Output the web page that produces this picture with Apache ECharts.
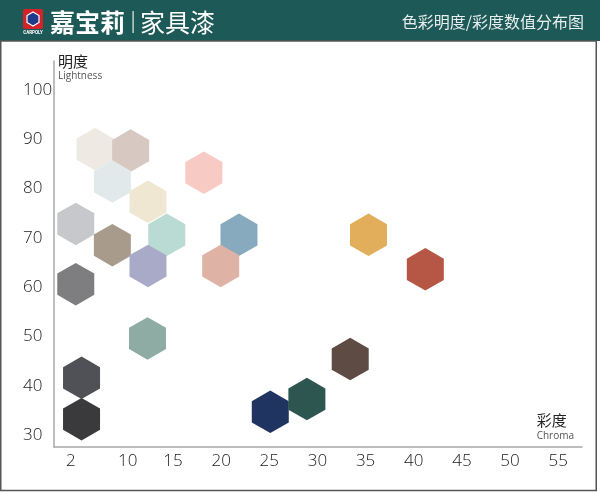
<!DOCTYPE html>
<html>
<head>
<meta charset="utf-8">
<script src="https://cdn.jsdelivr.net/npm/echarts@6/dist/echarts.min.js"></script>
<style>html,body{margin:0;padding:0;background:#fff}#c{width:600px;height:493px}</style>
</head>
<body>
<div id="c"></div>
<script>
// ---- data ----
var chromaValues = [6.9, 10.6, 8.7, 12.4, 18.2, 4.9, 8.7, 14.35, 21.85, 12.4, 19.95, 4.9, 12.35, 5.5, 5.5, 25.1, 28.9, 35.3, 41.2, 33.4];
var lightnessValues = [88.0, 87.7, 81.4, 77.3, 83.2, 72.8, 68.5, 70.6, 70.6, 64.3, 64.3, 60.6, 49.6, 41.6, 33.2, 34.7, 37.3, 70.6, 63.6, 45.4];
var hexColors = ['#EEEAE3', '#D7C8C1', '#E2E9EA', '#EFE7D2', '#F7CAC4', '#C7C8CB', '#A89B8B', '#BADBD4', '#88AABE', '#A9AAC7',
                 '#DEB2A5', '#7E7E81', '#8EABA4', '#505057', '#3A3A3D', '#1F3461', '#2E5651', '#E2AE5B', '#B65645', '#5E4B44'];
var xTickValues = [4.4, 10.3, 15, 20, 25, 30, 35, 40, 45, 50, 55];
var xTickLabels = ['2', '10', '15', '20', '25', '30', '35', '40', '45', '50', '55'];
var yTickValues = [30, 40, 50, 60, 70, 80, 90, 100];
var yTickLabels = ['30', '40', '50', '60', '70', '80', '90', '100'];

var hexPath = 'path://M0,-1 L0.866,-0.5 L0.866,0.5 L0,1 L-0.866,0.5 L-0.866,-0.5 Z';

var chart = echarts.init(document.getElementById('c'), null, {renderer: 'canvas'});
var pts = chromaValues.map(function (x, i) {
  return {value: [x, lightnessValues[i]], itemStyle: {color: hexColors[i], opacity: 1}};
});
var labelFont = '"Open Sans", "Segoe UI", sans-serif';
var option = {
  backgroundColor: '#ffffff',
  animation: false,
  grid: {left: 54, right: 18, top: 61, bottom: 46, containLabel: false},
  xAxis: {
    type: 'value', min: 2.64, max: 57.47,
    name: '{a|彩度}\n{b|Chroma}', nameLocation: 'end', nameGap: -8,
    nameTextStyle: {align: 'right', verticalAlign: 'bottom', padding: [0, 0, 4, 0],
      rich: {a: {fontSize: 15, color: '#222', fontFamily: '"Noto Sans CJK SC"', align: 'left', lineHeight: 19},
             b: {fontSize: 10, color: '#555', fontFamily: labelFont, align: 'left', lineHeight: 13}}},
    axisLine: {lineStyle: {color: '#a8a8a8', width: 1.5}},
    axisTick: {show: false},
    splitLine: {show: false},
    axisLabel: {customValues: xTickValues, margin: 6, fontSize: 17, color: '#1a1a1a', fontFamily: labelFont, fontWeight: 300,
      formatter: function (v) { var i = xTickValues.indexOf(v); return i >= 0 ? xTickLabels[i] : ''; }}
  },
  yAxis: {
    type: 'value', min: 27.57, max: 105.86,
    name: '{a|明度}\n{b|Lightness}', nameLocation: 'end', nameGap: -1,
    nameTextStyle: {align: 'left', verticalAlign: 'top', padding: [0, 0, 0, 4],
      rich: {a: {fontSize: 15, color: '#222', fontFamily: '"Noto Sans CJK SC"', align: 'left', lineHeight: 18},
             b: {fontSize: 10, color: '#555', fontFamily: labelFont, align: 'left', lineHeight: 12}}},
    axisLine: {show: true, lineStyle: {color: '#a8a8a8', width: 1.5}},
    axisTick: {show: false},
    splitLine: {show: false},
    axisLabel: {customValues: yTickValues, align: 'left', margin: 31, fontSize: 17, color: '#1a1a1a', fontFamily: labelFont, fontWeight: 300,
      formatter: function (v) { var i = yTickValues.indexOf(v); return i >= 0 ? yTickLabels[i] : ''; }}
  },
  series: [{
    type: 'scatter',
    symbol: hexPath,
    symbolSize: [37, 42.5],
    silent: true,
    itemStyle: {opacity: 1},
    data: pts
  }],
  graphic: [
    {type: 'rect', left: 0, top: 0, shape: {width: 600, height: 41}, style: {fill: '#1d5956'}, z: 10},
    {type: 'rect', shape: {x: 0.75, y: 41, width: 595.5, height: 449.5}, style: {fill: 'none', stroke: '#555', lineWidth: 1.5}, z: 10},
    {type: 'rect', shape: {x: 23, y: 9, width: 20, height: 20, r: 2}, style: {fill: '#d2232a'}, z: 11},
    {type: 'polygon', shape: {points: [[33, 12], [39, 15.5], [39, 22.5], [33, 26], [27, 22.5], [27, 15.5]]},
      style: {fill: '#1f3a8a', stroke: '#fff', lineWidth: 1.2}, z: 12},
    {type: 'text', x: 33, y: 30, style: {text: 'CARPOLY', fontSize: 4.5, fill: '#fff', align: 'center', fontFamily: 'Roboto', fontWeight: 'bold'}, z: 12},
    {type: 'text', x: 50, y: 22, style: {text: '嘉宝莉', fontSize: 25, fontWeight: 'bold', fill: '#fff', fontFamily: '"Noto Sans CJK SC"', verticalAlign: 'middle'}, z: 12},
    {type: 'rect', shape: {x: 132.5, y: 11, width: 1.2, height: 22}, style: {fill: '#e8eeee'}, z: 12},
    {type: 'text', x: 140, y: 22, style: {text: '家具漆', fontSize: 25, fill: '#fff', fontFamily: '"Noto Sans CJK SC"', verticalAlign: 'middle'}, z: 12},
    {type: 'text', x: 584, y: 22, style: {text: '色彩明度/彩度数值分布图', fontSize: 16, fill: '#e8eeee', fontFamily: '"Noto Sans CJK SC"', align: 'right', verticalAlign: 'middle'}, z: 12}
  ]
};
chart.setOption(option);
</script>
</body>
</html>
